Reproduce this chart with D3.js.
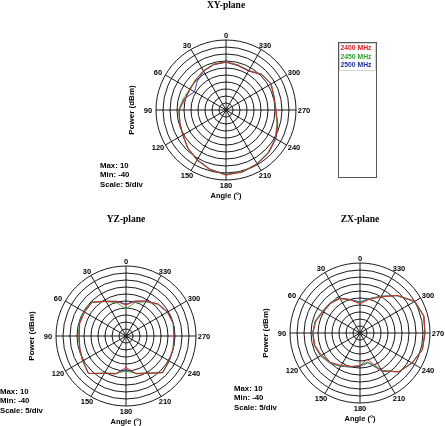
<!DOCTYPE html>
<html>
<head>
<meta charset="utf-8">
<script src="https://cdn.jsdelivr.net/npm/d3@7"></script>
<style>
  body { margin: 0; background: #fff; }
  svg { will-change: transform; }
  text { font-family: "Liberation Sans", Arial, sans-serif; font-weight: bold; fill: #000; }
  .title { font-family: "Liberation Serif", "Times New Roman", serif; }
</style>
</head>
<body>
<svg id="chart" width="445" height="426"></svg>
<script>
// angles every 15 deg, counter-clockwise from top
var angles = d3.range(0, 360, 15);
var tickAngles = [0, 30, 60, 90, 120, 150, 180, 210, 240, 270, 300, 330];
var ringValues = [-35, -30, -25, -20, -15, -10, -5, 0, 5, 10];
var freqs = ["2400 MHz", "2450 MHz", "2500 MHz"];
var colors = ["#d82020", "#35a035", "#1c2f9c"];

// power in dBm, one value per angle
var xy2400 = [-5.7,-6.3,-7.8,-9.5,-10.5,-9.8,-6.5,-5.8,-4.4,-1.6,1.2,4.2,6.5,5.9,4.5,3.0,0.9,-2.0,-4.2,-4.4,-2.8,-4.0,-7.6,-6.9];
var xy2450 = [-5.5,-6.0,-7.6,-9.2,-10.2,-8.4,-6.2,-5.6,-4.5,-1.3,1.5,4.0,6.2,5.6,4.2,2.6,0.6,-2.3,-4.5,-4.6,-2.6,-3.8,-7.3,-6.6];
var xy2500 = [-5.9,-6.5,-8.0,-11.0,-14.0,-9.0,-6.6,-5.9,-4.2,-1.5,1.0,3.8,6.1,5.7,4.6,3.2,1.2,-1.7,-4.6,-4.3,-3.0,-4.2,-7.9,-7.2];

var yz2400 = [-17.9,-14.5,-11.5,-6.0,-5.9,-5.8,-6.4,-5.8,-4.4,-2.2,-9.3,-12.1,-17.6,-12.0,-9.2,-3.0,-4.4,-5.1,-5.7,-5.0,-5.8,-7.8,-11.3,-14.2];
var yz2450 = [-20.7,-15.5,-11.6,-5.6,-5.3,-5.4,-6.2,-5.6,-4.2,-2.0,-9.5,-12.4,-15.0,-12.4,-9.5,-3.2,-4.6,-5.2,-5.9,-5.2,-6.0,-8.0,-11.8,-15.2];
var yz2500 = [-17.3,-14.3,-11.2,-5.8,-5.5,-5.6,-6.5,-5.9,-4.3,-2.1,-9.1,-12.0,-16.2,-12.2,-9.3,-2.9,-4.3,-5.0,-5.5,-4.9,-5.6,-7.6,-11.2,-14.1];

var zx2400 = [-19.3,-15.5,-11.6,-10.3,-9.6,-7.4,-6.4,-6.6,-8.2,-10.3,-13.2,-15.3,-16.6,-20.7,-8.8,-0.6,3.0,6.2,6.5,7.3,5.4,-2.0,-10.2,-15.2];
var zx2450 = [-18.6,-15.9,-11.2,-9.8,-9.0,-7.0,-6.3,-6.4,-7.6,-9.8,-12.6,-15.0,-16.8,-18.6,-9.2,-1.0,2.6,6.0,6.4,7.0,4.8,-2.2,-9.8,-14.8];
var zx2500 = [-17.9,-15.2,-11.3,-9.6,-9.1,-6.8,-6.2,-6.1,-7.4,-9.6,-12.5,-14.8,-16.2,-18.0,-8.6,-0.8,2.8,6.1,6.3,7.1,5.0,-2.4,-9.6,-14.6];

var panels = [
    {name: "XY-plane", cx: 226, cy: 110, titleY: 8, series: [xy2400, xy2450, xy2500]},
    {name: "YZ-plane", cx: 126, cy: 336, titleY: 222, series: [yz2400, yz2450, yz2500]},
    {name: "ZX-plane", cx: 360, cy: 333, titleY: 222, series: [zx2400, zx2450, zx2500]}
];

var R = 70;
var svg = d3.select("#chart");

var r = d3.scaleLinear().domain([-40, 10]).range([0, R]);
var a = d3.scaleLinear().domain([0, 360]).range([0, -2 * Math.PI]); // ccw

panels.forEach(function (p) {
    var g = svg.append("g").attr("transform", "translate(" + p.cx + "," + p.cy + ")");

    svg.append("text").attr("class", "title")
        .attr("x", p.cx).attr("y", p.titleY)
        .attr("text-anchor", "middle").attr("font-size", 9.5)
        .text(p.name);

    // rings
    g.selectAll("circle.ring").data(ringValues).enter().append("circle")
        .attr("class", "ring")
        .attr("r", function (d) { return r(d); })
        .attr("fill", "none").attr("stroke", "#000").attr("stroke-width", 0.9);

    // spokes
    g.selectAll("line.spoke").data(tickAngles).enter().append("line")
        .attr("class", "spoke")
        .attr("x2", function (d) { return R * Math.sin(a(d)); })
        .attr("y2", function (d) { return -R * Math.cos(a(d)); })
        .attr("stroke", "#000").attr("stroke-width", 0.9);

    g.append("circle").attr("r", 1.8).attr("fill", "#222");

    // angle labels
    g.selectAll("text.tick").data(tickAngles).enter().append("text")
        .attr("class", "tick")
        .attr("x", function (d) { return Math.round(78 * Math.sin(a(d))); })
        .attr("y", function (d) { return Math.round(-75 * Math.cos(a(d)) + 2.7); })
        .attr("text-anchor", "middle")
        .attr("font-size", 7.5)
        .text(function (d) { return d; });

    // traces, 2400 drawn last
    var line = d3.lineRadial()
        .angle(function (d, i) { return a(angles[i]); })
        .radius(function (d) { return r(d); })
        .curve(d3.curveLinearClosed);

    var order = [2, 1, 0];
    g.selectAll("path.trace").data(order).enter().append("path")
        .attr("class", "trace")
        .attr("d", function (k) { return line(p.series[k]); })
        .attr("fill", "none")
        .attr("stroke", function (k) { return colors[k]; })
        .attr("stroke-width", 0.9);

    // axis titles
    svg.append("text")
        .attr("transform", "translate(" + (p.cx - 92) + "," + p.cy + ") rotate(-90)")
        .attr("text-anchor", "middle").attr("font-size", 8)
        .text("Power  (dBm)");
    svg.append("text")
        .attr("x", p.cx).attr("y", p.cy + 88)
        .attr("text-anchor", "middle").attr("font-size", 7.5)
        .text("Angle  (°)");

    var info = ["Max: 10", "Min: -40", "Scale: 5/div"];
    svg.selectAll(null).data(info).enter().append("text")
        .attr("x", p.cx - 126)
        .attr("y", function (d, i) { return p.cy + 58 + i * 9.3; })
        .attr("font-size", 7.8)
        .text(function (d) { return d; });
});

// legend
svg.append("rect").attr("x", 338.5).attr("y", 42.5).attr("width", 38).attr("height", 135)
    .attr("fill", "none").attr("stroke", "#555").attr("stroke-width", 1);
svg.append("rect").attr("x", 339.5).attr("y", 43.5).attr("width", 36).attr("height", 27)
    .attr("fill", "none").attr("stroke", "#aaa").attr("stroke-width", 0.5);
svg.selectAll("text.leg").data(freqs).enter().append("text")
    .attr("class", "leg")
    .attr("x", 340.5)
    .attr("y", function (d, i) { return 50 + i * 8.5; })
    .attr("font-size", 6.8)
    .style("fill", function (d, i) { return colors[i]; })
    .text(function (d) { return d; });
</script>
</body>
</html>
